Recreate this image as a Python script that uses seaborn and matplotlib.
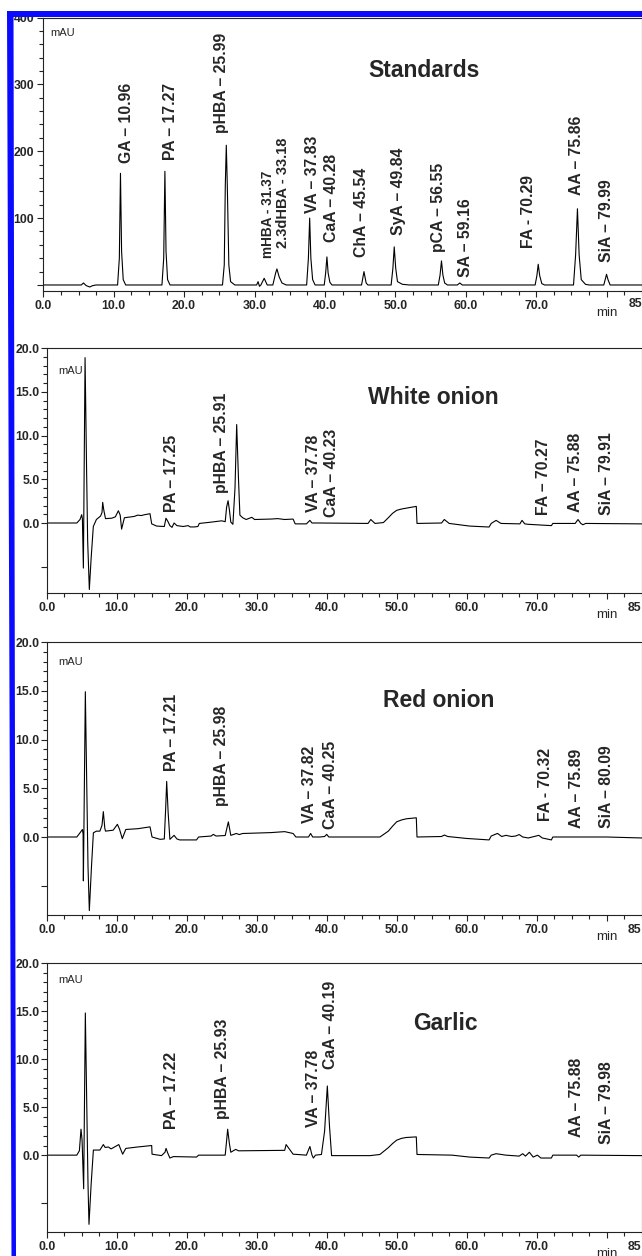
import matplotlib
matplotlib.use("Agg")
import matplotlib.pyplot as plt
import seaborn as sns
import pandas as pd
from matplotlib.patches import Polygon
from matplotlib.ticker import FixedLocator, MultipleLocator

# ---------------- data ----------------
# Standards chromatogram: time (min), absorbance (mAU)
std_t = [0, 5.4, 5.7, 6.1, 6.6, 7.0, 7.5,
         10.55, 10.8, 10.96, 11.12, 11.35, 11.7,
         16.85, 17.1, 17.27, 17.43, 17.65, 18.0,
         25.45, 25.7, 25.85, 25.99, 26.13, 26.35, 26.6, 27.2,
         30.3, 30.5, 30.7, 30.9, 31.37, 31.8,
         32.6, 33.0, 33.18, 33.5, 33.9, 34.5,
         37.4, 37.65, 37.83, 38.0, 38.25, 38.6,
         39.9, 40.1, 40.28, 40.45, 40.7, 41.0,
         45.2, 45.54, 45.85, 46.1,
         49.4, 49.65, 49.84, 50.05, 50.3, 51.0, 52.0,
         56.1, 56.35, 56.55, 56.75, 57.0, 57.4,
         58.8, 59.16, 59.5,
         69.85, 70.1, 70.29, 70.5, 70.8, 71.2,
         75.3, 75.6, 75.86, 76.1, 76.4, 77.0, 77.5,
         79.6, 79.8, 79.99, 80.2, 80.5, 85.0]
std_v = [0, 0, 3, -1, -3, -1, 0,
         0, 40, 167, 50, 8, 0,
         0, 40, 170, 50, 8, 0,
         0, 30, 150, 209, 150, 30, 5, 0,
         0, 5, -2, 0, 10, 0,
         0, 18, 24, 12, 3, 0,
         0, 40, 100, 40, 8, 0,
         0, 18, 42, 18, 4, 0,
         0, 20, 3, 0,
         0, 25, 57, 25, 5, 1, 0,
         0, 15, 36, 15, 3, 0,
         0, 3, 0,
         0, 14, 31, 14, 2, 0,
         0, 45, 114, 45, 8, 1, 0,
         0, 8, 16, 8, 0, 0]

white_t = [0, 4.3, 4.76, 5.0, 5.1, 5.24, 5.48, 5.7, 5.85, 6.09, 6.35, 6.66, 7.1, 7.4, 7.7,
           7.9, 8.0, 8.15, 8.4, 9.3, 9.8, 10.24, 10.5, 10.7, 11.1, 12.5, 13.0, 13.5, 14.0,
           14.76, 15.0, 15.7, 16.8, 17.04, 17.3, 17.6, 17.9, 18.2, 18.6, 19.5, 20.2, 20.5,
           21.1, 21.6, 21.8, 23.5, 25.0, 25.5, 25.7, 25.91, 26.1, 26.3, 26.6, 26.9, 27.14,
           27.4, 27.6, 28.0, 28.5, 29.3, 29.7, 32.0, 33.0, 34.0, 35.2, 35.5, 37.1, 37.6,
           37.9, 39.0, 45.9, 46.3, 46.9, 48.1, 48.8, 49.4, 50.0, 50.7, 51.4, 52.1, 52.8,
           52.9, 56.4, 56.8, 57.5, 60.4, 63.2, 63.5, 64.2, 64.9, 67.6, 67.9, 68.3, 68.8,
           72.1, 72.3, 75.5, 75.9, 76.3, 76.6, 77.0, 85.0]
white_v = [0, 0, 0.4, 0.95, 0.5, -5.15, 18.9, 6, -2, -7.6, -4, -0.4, 0.4, 0.6, 0.8,
           1.2, 2.36, 1.5, 0.5, 0.55, 0.7, 1.4, 0.9, -0.7, 0.6, 0.75, 0.9, 0.85, 0.95,
           1.06, -0.1, -0.35, -0.4, 0.55, 0.2, -0.3, -0.5, 0.0, -0.3, -0.4, -0.3, -0.45,
           -0.45, -0.4, -0.05, 0.1, 0.25, 0.15, 1.8, 2.55, 1.5, 0.1, -0.15, 4, 11.25,
           5, 0.9, 0.6, 0.4, 0.65, 0.4, 0.45, 0.5, 0.4, 0.45, -0.1, -0.1, 0.3,
           0.0, 0.0, -0.05, 0.4, -0.05, 0.05, 0.6, 1.1, 1.45, 1.6, 1.7, 1.8, 1.9,
           -0.05, 0.0, 0.4, -0.05, -0.35, -0.46, -0.05, 0.3, -0.05, -0.1, 0.3, -0.1, -0.15,
           -0.3, -0.05, -0.05, 0.4, -0.05, -0.2, -0.05, -0.1]

red_t = [0, 4.3, 4.76, 5.1, 5.2, 5.24, 5.52, 5.75, 5.9, 6.09, 6.4, 6.67, 7.1, 7.6, 7.9,
         8.09, 8.3, 8.4, 9.5, 10.1, 10.4, 10.8, 11.3, 13.0, 14.76, 15.05, 16.2, 16.8,
         17.0, 17.14, 17.35, 17.6, 18.2, 18.6, 19.0, 21.4, 21.7, 23.5, 23.8, 24.2, 25.5,
         25.95, 26.3, 27.1, 27.5, 28.0, 32.0, 34.0, 35.2, 35.6, 37.4, 37.7, 38.0, 39.0,
         39.7, 40.0, 40.3, 47.6, 48.8, 49.4, 50.0, 50.7, 51.4, 52.8, 52.9, 56.4, 56.8,
         57.3, 60.0, 63.2, 63.5, 64.4, 65.0, 65.6, 66.4, 67.0, 67.5, 68.0, 68.8, 70.3,
         70.8, 72.1, 72.3, 80.0, 85.0]
red_v = [0, 0, 0.43, 0.77, 0.3, -4.5, 14.9, 4, -3, -7.55, -3, 0.43, 0.6, 0.6, 1.2,
         2.6, 0.9, 0.6, 0.7, 1.3, 0.8, -0.17, 0.77, 0.85, 1.04, 0, -0.24, -0.2,
         3, 5.7, 2.5, -0.24, 0.17, -0.2, -0.3, -0.3, 0, 0.1, 0.27, 0.1, 0.15,
         1.55, 0.17, 0.36, 0.25, 0.36, 0.45, 0.55, 0.36, 0, 0, 0.36, 0, 0,
         0.05, 0.27, 0, 0, 0.6, 1.1, 1.56, 1.75, 1.87, 1.97, 0, 0.05, 0.2,
         0.05, -0.15, -0.3, 0.1, 0.37, 0.05, 0.17, 0.05, 0.1, 0.25, 0.0, -0.1, 0.17,
         -0.1, -0.3, 0, 0, -0.1]

garlic_t = [0, 4.3, 4.67, 4.9, 5.05, 5.28, 5.52, 5.75, 5.9, 6.04, 6.35, 6.67, 7.6, 8.09,
            8.35, 8.8, 9.2, 10.3, 10.85, 11.3, 13.0, 15.0, 15.05, 16.4, 16.9, 17.05, 17.3,
            17.6, 18.1, 21.4, 21.7, 25.5, 25.7, 25.85, 26.1, 26.3, 27.0, 27.4, 34.0, 34.2,
            34.6, 35.2, 37.1, 37.6, 37.9, 38.1, 38.4, 39.25, 39.7, 40.09, 40.4, 40.7, 46.2,
            47.6, 48.8, 49.4, 50.0, 50.7, 51.4, 52.8, 52.9, 57.9, 60.4, 63.2, 63.5, 64.2,
            65.6, 67.5, 68.0, 68.4, 68.95, 69.5, 70.1, 70.6, 72.1, 72.3, 75.7, 76.0, 76.3,
            85.0]
garlic_v = [0, 0, 0.46, 2.7, 1.6, -3.5, 14.8, 4, -3, -7.2, -3, 0.53, 0.53, 1.1,
            0.8, 0.85, 0.65, 1.1, 0.1, 0.7, 0.85, 1.0, 0.1, -0.05, 0.3, 0.7, 0.2,
            -0.3, -0.15, -0.2, 0, 0, 1.5, 2.7, 1.2, 0.3, 0.6, 0.45, 0.5, 1.1,
            0.7, 0.1, 0.0, 0.9, 0.0, -0.3, 0.0, 0.07, 2.5, 7.2, 3, -0.05, -0.05,
            0.07, 0.78, 1.2, 1.56, 1.75, 1.84, 1.9, 0.07, 0.0, -0.2, -0.3, 0.0, 0.15,
            0.0, -0.1, 0.15, -0.1, 0.3, -0.2, 0.0, -0.3, -0.3, 0.0, 0.0, -0.2, 0.0,
            -0.05]

# peak labels
std_labels = ["GA – 10.96", "PA – 17.27", "pHBA – 25.99", "mHBA - 31.37", "2.3dHBA - 33.18",
              "VA – 37.83", "CaA – 40.28", "ChA – 45.54", "SyA – 49.84", "pCA – 56.55",
              "SA – 59.16", "FA - 70.29", "AA – 75.86", "SiA – 79.99"]
white_labels = ["PA – 17.25", "pHBA – 25.91", "VA – 37.78", "CaA – 40.23",
                "FA – 70.27", "AA – 75.88", "SiA – 79.91"]
red_labels = ["PA – 17.21", "pHBA – 25.98", "VA – 37.82", "CaA – 40.25",
              "FA - 70.32", "AA – 75.89", "SiA – 80.09"]
garlic_labels = ["PA – 17.22", "pHBA – 25.93", "VA – 37.78", "CaA – 40.19",
                 "AA – 75.88", "SiA – 79.98"]
titles = ["Standards", "White onion", "Red onion", "Garlic"]
x_ticklabels = ["0.0", "10.0", "20.0", "30.0", "40.0", "50.0", "60.0", "70.0", ""]

# ---------------- layout ----------------
std_lab_pos = [(11.85, 182), (18.0, 187), (25.34, 227), (31.85, 40), (34.0, 55),
               (38.3, 108), (40.97, 64), (45.2, 42), (50.4, 75), (56.1, 49),
               (59.9, 12), (68.85, 55), (75.7, 135), (80.0, 35)]
std_lab_size = [11.3, 11.3, 11.3, 9.8, 10.5, 11.3, 11.3, 11.3, 11.3, 11.3, 11.3, 11.3, 11.3, 11.3]
white_lab_pos = [(17.86, 1.3), (25.0, 3.4), (38.1, 1.3), (40.7, 0.7),
                 (70.9, 0.9), (75.5, 1.3), (79.9, 0.9)]
red_lab_pos = [(17.86, 6.75), (25.0, 3.16), (37.5, 1.46), (40.5, 0.77),
               (71.2, 1.6), (75.7, 0.94), (80.0, 0.94)]
garlic_lab_pos = [(17.86, 2.76), (25.14, 3.8), (38.1, 2.9), (40.5, 9.0),
                  (75.7, 1.85), (80.0, 1.17)]
title_pos = [(54.1, 320), (55.3, 14.4), (56.0, 14.0), (57.0, 13.7)]
mau_pos = [(0.95, 377), (1.6, 17.4), (1.66, 18.0), (1.66, 18.2)]

W, H = 642, 1256
# (left, right, top, bottom) in pixels
boxes = [(43.3, 641.8, 17.5, 291), (46.7, 641.7, 348, 593),
         (46.7, 641.7, 642, 915), (46.7, 641.7, 963, 1232)]
min_off = [21.7, 22, 22, 22]     # px below axis
end_off = [13, 15, 15, 15]

sns.set_style("ticks")
plt.rcParams['font.family'] = ['Liberation Sans', 'DejaVu Sans']
plt.rcParams['axes.edgecolor'] = '#222222'
plt.rcParams['axes.linewidth'] = 0.8

fig = plt.figure(figsize=(W / 100, H / 100), dpi=100)

traces = [(std_t, std_v), (white_t, white_v), (red_t, red_v), (garlic_t, garlic_v)]
labels = [std_labels, white_labels, red_labels, garlic_labels]
lab_pos = [std_lab_pos, white_lab_pos, red_lab_pos, garlic_lab_pos]

px2pt = 0.72
for i in range(4):
    l, r, t, b = boxes[i]
    ax = fig.add_axes([l / W, 1 - b / H, (r - l) / W, (b - t) / H])
    tt, vv = traces[i]
    df = pd.DataFrame({"time": tt, "mAU": vv})
    sns.lineplot(data=df, x="time", y="mAU", ax=ax, color="black", linewidth=0.8,
                 estimator=None, sort=False)
    ax.set_xlabel("")
    ax.set_ylabel("")
    ax.set_xlim(0, 85)
    ax.xaxis.set_major_locator(FixedLocator(list(range(0, 81, 10))))
    ax.set_xticklabels(x_ticklabels)
    ax.xaxis.set_minor_locator(MultipleLocator(2.5))
    if i == 0:
        ax.set_ylim(-9, 400)
        ax.yaxis.set_major_locator(FixedLocator([0, 100, 200, 300, 400]))
        ax.set_yticklabels(["", "100", "200", "300", "400"])
        ax.yaxis.set_minor_locator(FixedLocator(list(range(0, 401, 20))))
        ypad = 2.0
    else:
        ax.set_ylim(-8, 20)
        ax.yaxis.set_major_locator(FixedLocator([-5, 0, 5, 10, 15, 20]))
        ax.set_yticklabels(["", "0.0", "5.0", "10.0", "15.0", "20.0"])
        ax.yaxis.set_minor_locator(FixedLocator(list(range(0, 21))))
        ypad = 0.6
    ax.tick_params(axis='both', which='major', direction='out', length=4.6, width=0.8,
                   color='#222222', labelsize=8.8)
    ax.tick_params(axis='both', which='minor', direction='out', length=2.6, width=0.8,
                   color='#222222')
    ax.tick_params(axis='x', which='major', pad=2.0)
    ax.tick_params(axis='y', which='major', pad=ypad)
    for lab in ax.get_xticklabels() + ax.get_yticklabels():
        lab.set_fontweight('bold')
    for s in ax.spines.values():
        s.set_visible(True)
    ax.set_facecolor('white')

    # peak labels
    for k, (txt, (px, py)) in enumerate(zip(labels[i], lab_pos[i])):
        fs = std_lab_size[k] if i == 0 else 11.3
        ax.text(px, py, txt, rotation=90, ha='center', va='bottom',
                fontsize=fs, fontweight='bold')
    tx, ty = title_pos[i]
    ax.text(tx, ty, titles[i], ha='center', va='center', fontsize=16.5, fontweight='bold')
    mx, my = mau_pos[i]
    ax.text(mx, my, "mAU", ha='left', va='center', fontsize=8)
    ax.annotate("min", xy=(80, 0), xycoords=ax.get_xaxis_transform(),
                xytext=(0, -min_off[i] * px2pt), textcoords='offset points',
                ha='center', va='center', fontsize=9.5)
    ax.annotate("85", xy=(85, 0), xycoords=ax.get_xaxis_transform(),
                xytext=(0, -end_off[i] * px2pt), textcoords='offset points',
                ha='right', va='center', fontsize=8.8, fontweight='bold',
                annotation_clip=False)

# blue frame (left and top bars)
blue = '#0a0aff'
left_bar = Polygon([(7 / W, 1 - 11 / H), (13.5 / W, 1 - 11 / H),
                    (16 / W, 0), (11.5 / W, 0)], closed=True,
                   transform=fig.transFigure, facecolor=blue, edgecolor='none', zorder=20)
top_bar = Polygon([(7 / W, 1 - 11 / H), (1, 1 - 11 / H), (1, 1 - 17 / H),
                   (7 / W, 1 - 17 / H)], closed=True,
                  transform=fig.transFigure, facecolor=blue, edgecolor='none', zorder=20)
fig.patches.extend([left_bar, top_bar])

fig.savefig("out.png", dpi=100, facecolor='white')
